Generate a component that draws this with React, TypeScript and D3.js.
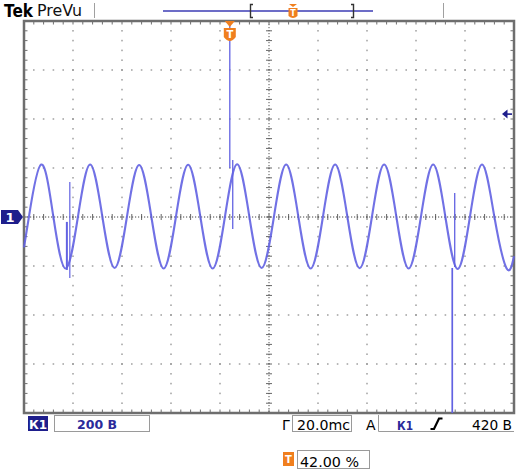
import React from 'react';
import * as d3 from 'd3';

// Scope settings
const voltsPerDiv = 200; // "200 В"
const timePerDivMs = 20; // "20.0mc"
const triggerPosPct = 42; // "42.00 %"
const triggerLevelV = 420; // "420 В"
const horizDivs = 10;
const vertDivs = 8;

// Trace key points: time (ms from trigger) and volts
const waveTimeMs = [-84, -82, -77, -72, -67, -62, -57, -52, -47, -42, -37, -32, -27, -22, -17, -12, -7, -2, 3, 8, 13, 18, 23, 28, 33, 38, 43, 48, 53, 58, 63, 68, 73, 78, 83, 88, 93, 98, 103, 108, 113, 116];
const waveVolts = [-124, 0, 214, 0, -210, 0, 214, 0, -208, 0, 212, 0, -210, 0, 213, 0, -210, 0, 215, 0, -208, 0, 214, 0, -210, 0, 214, 0, -209, 0, 214, 0, -210, 0, 214, 0, -212, 0, 214, 0, -210, -160];

// Glitches (vertical spikes): time, high and low level in volts
const spikeTimeMs = [-66.5, -65.3, 0, 1.2, 90.8, 91.8];
const spikeHighV = [-20, 143, 800, 233, -208, 98];
const spikeLowV = [-216, -249, 200, -49, -800, -204];
const spikeWidth = [2, 1.2, 1.3, 1.3, 1.7, 1.3];

const TRACE = '#6262e2';
const NAVY = '#1e1e8c';
const ORANGE = '#f07f1e';
const FONT = '"DejaVu Sans", "Liberation Sans", sans-serif';

export default function App() {
  const L = 24, R = 514, T = 21, B = 413;
  const tStart = -(triggerPosPct / 100) * horizDivs * timePerDivMs;
  const tEnd = tStart + horizDivs * timePerDivMs;
  const vHalf = (vertDivs / 2) * voltsPerDiv;
  const x = d3.scaleLinear().domain([tStart, tEnd]).range([L, R]);
  const y = d3.scaleLinear().domain([-vHalf, vHalf]).range([B, T]);

  const majorTs = d3.range(1, horizDivs).map(k => tStart + k * timePerDivMs);
  const majorVs = d3.range(1, vertDivs).map(k => -vHalf + k * voltsPerDiv);
  const minorTs = d3.range(1, horizDivs * 5).map(k => tStart + (k * timePerDivMs) / 5);
  const minorVs = d3.range(1, vertDivs * 5).map(k => -vHalf + (k * voltsPerDiv) / 5);
  const tCenter = tStart + (horizDivs / 2) * timePerDivMs;

  const line = d3
    .line<number>()
    .x((_, i) => x(waveTimeMs[i]))
    .y(v => y(v))
    .curve(d3.curveNatural);

  const gridDots: JSX.Element[] = [];
  majorTs.forEach((t, i) => {
    if (Math.abs(t - tCenter) < 1e-6) return;
    minorVs.forEach((v, j) => {
      gridDots.push(<rect key={`gv${i}-${j}`} x={x(t) - 0.6} y={y(v) - 0.8} width={1.2} height={1.6} fill="#8a8a8a" />);
    });
  });
  majorVs.forEach((v, i) => {
    if (v === 0) return;
    minorTs.forEach((t, j) => {
      gridDots.push(<rect key={`gh${i}-${j}`} x={x(t) - 0.8} y={y(v) - 0.6} width={1.6} height={1.2} fill="#8a8a8a" />);
    });
  });

  const cx = x(tCenter);
  const cy = y(0);

  return (
    <svg width={520} height={474} style={{ position: 'absolute', left: 0, top: 0, background: '#fff' }}>
      <rect x={0} y={0} width={520} height={474} fill="#fff" />

      {/* Header */}
      <text x={4} y={17} fontFamily={FONT} fontWeight="bold" fontSize={18} textLength={29} lengthAdjust="spacingAndGlyphs" fill="#000">Tek</text>
      <text x={37} y={16} fontFamily={FONT} fontSize={15} textLength={45} lengthAdjust="spacingAndGlyphs" fill="#111">PreVu</text>
      <line x1={94.5} y1={3} x2={94.5} y2={18} stroke="#a0a0a0" strokeWidth={1} />
      <line x1={443.5} y1={3} x2={443.5} y2={18} stroke="#a0a0a0" strokeWidth={1} />
      <line x1={163} y1={11} x2={373} y2={11} stroke="#3c3cb4" strokeWidth={1.5} />
      <path d="M253,4.5 H250.5 V17.5 H253" fill="none" stroke="#333" strokeWidth={1.4} />
      <path d="M351,4.5 H353.5 V17.5 H351" fill="none" stroke="#333" strokeWidth={1.4} />
      <path d="M289,4 H297 L293,7 Z" fill={ORANGE} />
      <path d="M288.5,8 H297.5 V16 Q293,20 288.5,16 Z" fill={ORANGE} />
      <text x={293} y={16} textAnchor="middle" fontFamily={FONT} fontWeight="bold" fontSize={8} fill="#fff">T</text>

      {/* Graticule */}
      {gridDots}
      {minorTs.map((t, i) => (
        <g key={`tx${i}`}>
          <line x1={x(t)} y1={T} x2={x(t)} y2={T + 3.5} stroke="#707070" strokeWidth={1} />
          <line x1={x(t)} y1={B} x2={x(t)} y2={B - 3.5} stroke="#707070" strokeWidth={1} />
          <line x1={x(t)} y1={cy - 3} x2={x(t)} y2={cy + 3} stroke="#666" strokeWidth={1} />
        </g>
      ))}
      {minorVs.map((v, i) => (
        <g key={`ty${i}`}>
          <line x1={L} y1={y(v)} x2={L + 3.5} y2={y(v)} stroke="#707070" strokeWidth={1} />
          <line x1={R} y1={y(v)} x2={R - 3.5} y2={y(v)} stroke="#707070" strokeWidth={1} />
          <line x1={cx - 3} y1={y(v)} x2={cx + 3} y2={y(v)} stroke="#666" strokeWidth={1} />
        </g>
      ))}
      <line x1={L} y1={cy} x2={R} y2={cy} stroke="#444" strokeWidth={1} strokeDasharray="1.2,1.8" />
      <line x1={cx} y1={T} x2={cx} y2={B} stroke="#555" strokeWidth={1} strokeDasharray="1.2,1.8" />
      <rect x={L} y={T} width={R - L} height={B - T} fill="none" stroke="#6e6e6e" strokeWidth={2.5} />

      {/* Trace */}
      <path d={line(waveVolts) || ''} fill="none" stroke={TRACE} strokeWidth={2.1} strokeOpacity={0.9} strokeLinejoin="round" />
      {spikeTimeMs.map((t, i) => (
        <line key={`sp${i}`} x1={x(t)} y1={y(Math.min(spikeHighV[i], vHalf))} x2={x(t)} y2={y(Math.max(spikeLowV[i], -vHalf))} stroke={TRACE} strokeWidth={spikeWidth[i]} />
      ))}

      {/* Trigger position marker */}
      <path d={`M${x(0) - 5},${T} H${x(0) + 5} L${x(0)},${T + 6} Z`} fill={ORANGE} />
      <path d={`M${x(0) - 6},28 H${x(0) + 6} V37 Q${x(0)},45 ${x(0) - 6},37 Z`} fill={ORANGE} />
      <text x={x(0)} y={38} textAnchor="middle" fontFamily={FONT} fontWeight="bold" fontSize={10} fill="#fff">T</text>

      {/* Trigger level arrow */}
      <path d={`M502,${y(triggerLevelV)} L507.5,${y(triggerLevelV) - 4.5} V${y(triggerLevelV) + 4.5} Z`} fill={NAVY} />
      <line x1={507} y1={y(triggerLevelV)} x2={512} y2={y(triggerLevelV)} stroke={NAVY} strokeWidth={1.6} />

      {/* Channel 1 ground marker */}
      <path d={`M1,${cy - 7} H18 L23,${cy} L18,${cy + 7} H1 Z`} fill={NAVY} />
      <text x={10} y={cy + 5} textAnchor="middle" fontFamily={FONT} fontWeight="bold" fontSize={13} fill="#fff">1</text>

      {/* Status bar */}
      <rect x={28} y={416} width={20} height={15} fill={NAVY} />
      <text x={38} y={428.5} textAnchor="middle" fontFamily={FONT} fontWeight="bold" fontSize={12} fill="#fff">К1</text>
      <rect x={54.5} y={415.5} width={95} height={16} fill="#fff" stroke="#9a9a9a" strokeWidth={1} />
      <text x={77} y={429} fontFamily={FONT} fontWeight="bold" fontSize={13} textLength={40} lengthAdjust="spacingAndGlyphs" fill="#2a2a9a">200 В</text>

      <text x={282} y={429.5} fontFamily={FONT} fontSize={14} fill="#000">Г</text>
      <rect x={292.5} y={415.5} width={59} height={16} fill="#fff" stroke="#9a9a9a" strokeWidth={1} />
      <text x={297} y={429.5} fontFamily={FONT} fontSize={14} textLength={53} lengthAdjust="spacingAndGlyphs" fill="#000">20.0mc</text>
      <text x={366} y={429.5} fontFamily={FONT} fontSize={14} fill="#000">A</text>
      <path d="M378.5,415 V431.5 H514" fill="none" stroke="#9a9a9a" strokeWidth={1} />
      <text x={397} y={429.5} fontFamily={FONT} fontWeight="bold" fontSize={13} textLength={16} lengthAdjust="spacingAndGlyphs" fill="#2a2a9a">К1</text>
      <path d="M430.5,429 H434 L439,418.5 H442.5" fill="none" stroke="#000" strokeWidth={2.2} />
      <text x={472} y={429.5} fontFamily={FONT} fontSize={14} textLength={40} lengthAdjust="spacingAndGlyphs" fill="#000">420 В</text>

      <rect x={283} y={452} width={11} height={14} fill={ORANGE} />
      <text x={288.5} y={463} textAnchor="middle" fontFamily={FONT} fontWeight="bold" fontSize={10} fill="#fff">T</text>
      <rect x={297.5} y={450.5} width={72} height={18} fill="#fff" stroke="#9a9a9a" strokeWidth={1} />
      <text x={300} y={466.5} fontFamily={FONT} fontSize={14} textLength={59} lengthAdjust="spacingAndGlyphs" fill="#000">42.00 %</text>
    </svg>
  );
}
